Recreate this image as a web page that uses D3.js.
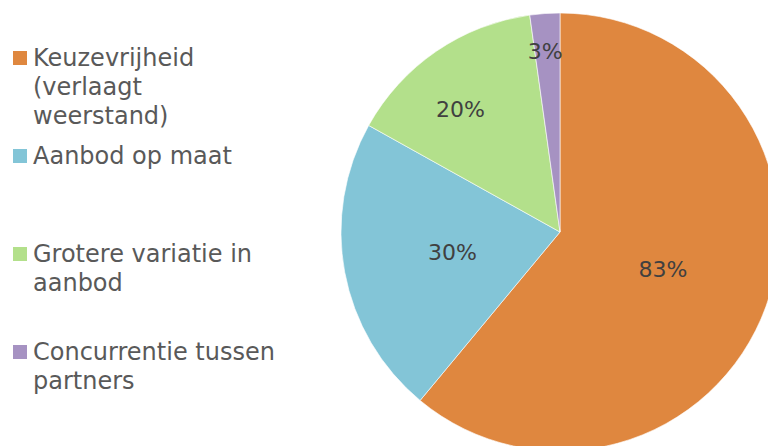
<!DOCTYPE html>
<html>
<head>
<meta charset="utf-8">
<script src="https://d3js.org/d3.v7.min.js"></script>
<style>
  html, body { margin: 0; padding: 0; background: #fff; }
  svg { display: block; font-family: "DejaVu Sans", Verdana, sans-serif; }
</style>
</head>
<body>
<script>
// data
var categories = [
  ["Keuzevrijheid", "(verlaagt", "weerstand)"],
  ["Aanbod op maat"],
  ["Grotere variatie in", "aanbod"],
  ["Concurrentie tussen", "partners"]
];
var values = [83, 30, 20, 3];
var labels = ["83%", "30%", "20%", "3%"];
var colors = ["#df873f", "#83c5d7", "#b3e08b", "#a692c2"];

var width = 768, height = 446;
var svg = d3.select("body").append("svg").attr("width", width).attr("height", height);

// pie
var cx = 560, cy = 232, r = 219;
var pie = d3.pie().sort(null).value(function(d){ return d; });
var arcs = pie(values);
var arc = d3.arc().innerRadius(0).outerRadius(r);

var g = svg.append("g").attr("transform", "translate(" + cx + "," + cy + ")");
g.selectAll("path").data(arcs).enter().append("path")
  .attr("d", arc)
  .attr("fill", function(d, i){ return colors[i]; })
  .attr("stroke", "#fff")
  .attr("stroke-width", 0.6);

// labels: small slices get pushed outwards (best fit)
function labelR(d) {
  var span = d.endAngle - d.startAngle;
  if (span > 1.2) return r * 0.5;
  if (span > 0.5) return r * 0.72;
  return r * 0.83;
}
function labelA(d) {
  var span = d.endAngle - d.startAngle;
  return d.startAngle + span * (span > 1.2 ? 0.5 : 0.41);
}
g.selectAll("text").data(arcs).enter().append("text")
  .attr("x", function(d){ return Math.sin(labelA(d)) * labelR(d); })
  .attr("y", function(d){ return -Math.cos(labelA(d)) * labelR(d); })
  .attr("text-anchor", "middle")
  .attr("dy", "0.35em")
  .attr("font-size", 22)
  .attr("fill", "#404040")
  .text(function(d, i){ return labels[i]; });

// legend
var legendTop = [66, 164, 262, 360];
var lineH = 29;
var leg = svg.append("g");
categories.forEach(function(lines, i){
  var y0 = legendTop[i];
  leg.append("rect")
    .attr("x", 13).attr("y", y0 - 15).attr("width", 14).attr("height", 14)
    .attr("fill", colors[i]);
  var t = leg.append("text")
    .attr("x", 33).attr("y", y0)
    .attr("font-size", 24)
    .attr("fill", "#595959");
  lines.forEach(function(s, j){
    t.append("tspan").attr("x", 33).attr("y", y0 + j * lineH).text(s);
  });
});
</script>
</body>
</html>
